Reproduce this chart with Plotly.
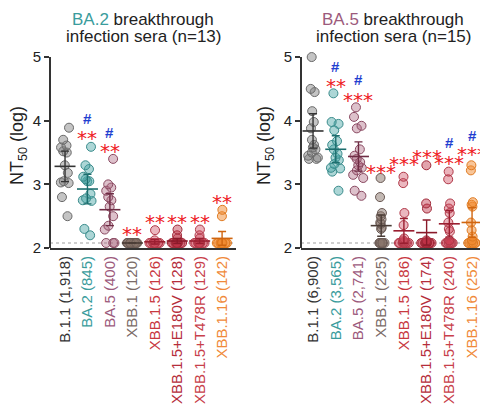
import numpy as np
import plotly.graph_objects as go

categories = ["B.1.1", "BA.2", "BA.5", "XBB.1", "XBB.1.5", "XBB.1.5+E180V", "XBB.1.5+T478R", "XBB.1.16"]
gmt_left = ["1,918", "845", "400", "120", "126", "128", "129", "142"]
gmt_right = ["6,900", "3,565", "2,741", "225", "186", "174", "240", "252"]

LOD = 2.079  # log10(120), detection limit

# BA.2 breakthrough infection sera (n=13), log10 NT50
left_b11 = [3.89, 3.70, 3.61, 3.58, 3.52, 3.50, 3.30, 3.18, 3.05, 3.03, 3.02, 2.80, 2.50]
left_ba2 = [3.59, 3.30, 3.24, 3.12, 3.08, 3.05, 3.05, 2.85, 2.78, 2.75, 2.74, 2.30, 2.20]
left_ba5 = [3.40, 3.00, 2.95, 2.90, 2.80, 2.75, 2.65, 2.50, 2.35, 2.29, 2.079, 2.079, 2.079]
left_xbb1 = [2.079] * 13
left_xbb15 = [2.28, 2.12] + [2.079] * 11
left_e180v = [2.29, 2.20, 2.15] + [2.079] * 10
left_t478r = [2.29, 2.20, 2.15] + [2.079] * 10
left_xbb116 = [2.60, 2.50] + [2.079] * 11

# BA.5 breakthrough infection sera (n=15), log10 NT50
right_b11 = [5.0, 4.50, 4.45, 4.15, 3.98, 3.88, 3.70, 3.62, 3.58, 3.55, 3.50, 3.45, 3.42, 3.40, 3.40]
right_ba2 = [4.43, 3.98, 3.95, 3.85, 3.68, 3.62, 3.55, 3.48, 3.42, 3.38, 3.32, 3.26, 3.25, 3.20, 2.90]
right_ba5 = [4.21, 4.06, 3.92, 3.88, 3.55, 3.45, 3.40, 3.35, 3.30, 3.26, 3.22, 3.15, 3.10, 2.90, 2.82]
right_xbb1 = [3.10, 2.80, 2.55, 2.50, 2.45, 2.40, 2.38, 2.32, 2.30] + [2.079] * 6
right_xbb15 = [3.12, 3.02, 2.55, 2.36, 2.15, 2.12, 2.10] + [2.079] * 8
right_e180v = [3.30, 2.70, 2.62, 2.12, 2.10] + [2.079] * 10
right_t478r = [3.20, 3.08, 2.70, 2.62, 2.55, 2.40, 2.30, 2.26, 2.12] + [2.079] * 6
right_xbb116 = [3.30, 3.22, 2.72, 2.68, 2.65, 2.40, 2.28, 2.18, 2.12] + [2.079] * 6

left_data = [left_b11, left_ba2, left_ba5, left_xbb1, left_xbb15, left_e180v, left_t478r, left_xbb116]
right_data = [right_b11, right_ba2, right_ba5, right_xbb1, right_xbb15, right_e180v, right_t478r, right_xbb116]

# significance labels
left_stars = ["", "**", "**", "**", "**", "**", "**", "**"]
left_star_y = [None, 3.80, 3.60, 2.30, 2.49, 2.49, 2.49, 2.80]
left_hash_y = [None, 4.04, 3.82, None, None, None, None, None]
right_stars = ["", "**", "***", "***", "***", "***", "***", "***"]
right_star_y = [None, 4.62, 4.41, 3.27, 3.40, 3.51, 3.41, 3.55]
right_hash_y = [None, 4.85, 4.64, None, None, None, 3.65, 3.77]

label_colors = ["#333333", "#3a9c9c", "#9c5a7c", "#7a6a66", "#c8383f", "#b52d3b", "#c8404a", "#f08a3a"]
fill_colors = ["rgba(125,125,125,0.45)", "rgba(70,165,165,0.45)", "rgba(170,100,125,0.40)",
               "rgba(135,115,105,0.50)", "rgba(205,75,95,0.40)", "rgba(190,50,70,0.45)",
               "rgba(205,65,85,0.40)", "rgba(242,140,50,0.50)"]
edge_colors = ["#6a6a6a", "#3a8c8c", "#8a4a62", "#6a5a54", "#b03848", "#a02838", "#b03848", "#e07a20"]
dark_colors = ["#333333", "#1d6e6e", "#6e2c44", "#4a3c36", "#9a1e30", "#8a1a2a", "#9a1e30", "#d0650f"]

T_CRIT = {13: 2.179, 15: 2.145}
FONT = "Arial, Liberation Sans, sans-serif"

fig = go.Figure()


def add_panel(data, xa, ya):
    for i, vals in enumerate(data):
        v = np.array(vals)
        fig.add_trace(go.Box(
            x=[i] * len(v), y=v, xaxis=xa, yaxis=ya,
            boxpoints="all", jitter=0.7, pointpos=0, width=0.8,
            fillcolor="rgba(0,0,0,0)", line=dict(width=0, color="rgba(0,0,0,0)"),
            marker=dict(size=9, color=fill_colors[i], line=dict(width=1, color=edge_colors[i])),
            showlegend=False, hoverinfo="y"))
    for i, vals in enumerate(data):
        v = np.array(vals)
        m = v.mean()
        ci = T_CRIT[len(v)] * v.std(ddof=1) / np.sqrt(len(v))
        fig.add_trace(go.Scatter(
            x=[i], y=[m], xaxis=xa, yaxis=ya, mode="markers", cliponaxis=False,
            marker=dict(symbol="line-ew", size=15, line=dict(width=1.6, color=dark_colors[i])),
            error_y=dict(type="data", symmetric=False, array=[ci], arrayminus=[ci],
                         color=dark_colors[i], thickness=1.4, width=4),
            showlegend=False))


add_panel(left_data, "x", "y")
add_panel(right_data, "x2", "y2")

ann = []
for stars, sy, hy, xr, yr in [(left_stars, left_star_y, left_hash_y, "x", "y"),
                              (right_stars, right_star_y, right_hash_y, "x2", "y2")]:
    for i in range(len(categories)):
        if sy[i] is not None:
            ann.append(dict(x=i, y=sy[i], xref=xr, yref=yr, text=stars[i], showarrow=False,
                            xanchor="center", yanchor="middle", yshift=-5,
                            font=dict(family="DejaVu Sans", size=20, color="#ee1c25")))
        if hy[i] is not None:
            ann.append(dict(x=i, y=hy[i], xref=xr, yref=yr, text="<b>#</b>", showarrow=False,
                            xanchor="center", yanchor="middle",
                            font=dict(family=FONT, size=15, color="#1f3fd0")))

# titles
titles = [
    (143 / 480, 0.952, '<span style="color:#3a9c9c">BA.2</span> breakthrough'),
    (143 / 480, 0.913, "infection sera (n=13)"),
    (393 / 480, 0.952, '<span style="color:#9c5a7c">BA.5</span> breakthrough'),
    (393 / 480, 0.913, "infection sera (n=15)"),
]
for xp, yp, t in titles:
    ann.append(dict(x=xp, y=yp, text=t, xref="paper", yref="paper", showarrow=False,
                    xanchor="center", yanchor="middle", font=dict(family=FONT, size=17, color="#222")))
for xp in (18 / 480, 265 / 480):
    ann.append(dict(x=xp, y=0.649, xref="paper", yref="paper", showarrow=False, textangle=-90,
                    xanchor="center", yanchor="middle",
                    text="NT<sub>50</sub> (log)", font=dict(family=FONT, size=18, color="#222")))

shapes = []
for xr, yr in [("x", "y"), ("x2", "y2")]:
    shapes.append(dict(type="line", xref=f"{xr} domain", x0=0, x1=1, yref=yr, y0=LOD, y1=LOD,
                       line=dict(color="#c0c0c0", width=1.5, dash="dot"), layer="below"))
    shapes.append(dict(type="line", xref=f"{xr} domain", x0=0, x1=0, yref=yr, y0=2, y1=5,
                       line=dict(color="#333333", width=2)))


def ticktext(gmts):
    return [f'<span style="color:{c}">{cat} ({g})</span>' for cat, g, c in zip(categories, gmts, label_colors)]


xcommon = dict(tickvals=list(range(len(categories))), tickangle=-90, showline=True, linecolor="#333333",
               linewidth=2, ticks="", showgrid=False, zeroline=False, automargin=False,
               tickfont=dict(family=FONT, size=15, color="#333"))
ycommon = dict(range=[2, 5.12], domain=[0.4038, 0.8812], tickvals=[2, 3, 4, 5], ticks="outside", ticklen=5,
               tickwidth=1.5, tickcolor="#333333", showline=False, showgrid=False, zeroline=False,
               automargin=False, tickfont=dict(family=FONT, size=15, color="#222"))

fig.update_layout(
    width=480, height=416, margin=dict(l=0, r=0, t=0, b=0, autoexpand=False),
    paper_bgcolor="white", plot_bgcolor="white", boxmode="overlay",
    xaxis=dict(domain=[50 / 480, 236 / 480], range=[-0.67, 7.62], ticktext=ticktext(gmt_left), anchor="y", **xcommon),
    xaxis2=dict(domain=[301 / 480, 1.0], range=[-0.53, 7.35], ticktext=ticktext(gmt_right), anchor="y2", **xcommon),
    yaxis=dict(anchor="x", **ycommon),
    yaxis2=dict(anchor="x2", **ycommon),
    annotations=ann, shapes=shapes,
)

fig.write_html("out.html", config={"displayModeBar": False},
               post_script="document.body.style.margin='0';document.body.style.overflow='hidden';")
